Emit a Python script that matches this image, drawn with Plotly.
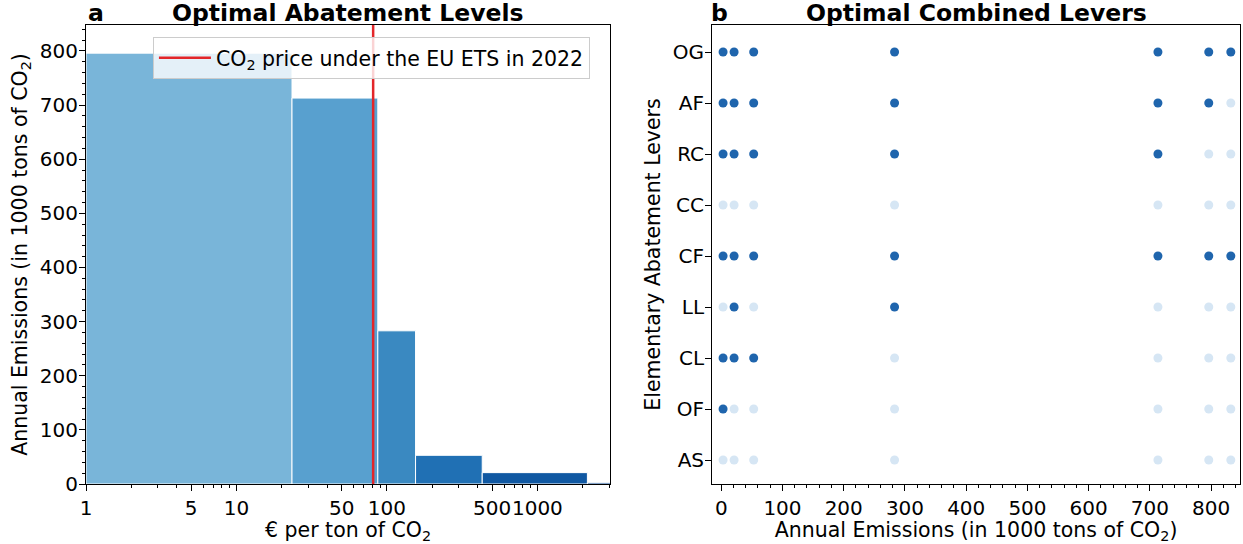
import numpy as np
import plotly.graph_objects as go
from plotly.subplots import make_subplots

# ---- Data ----
# Panel a: abatement cost steps (EUR per ton) and annual emissions (1000 t CO2)
price_edges = [1, 23.4, 87, 155, 430, 2150, 3100]
emission_levels = [796, 713, 283, 53, 21, 3]
bar_colors = ["#79b5d9", "#58a0cf", "#3a89c1", "#2070b4", "#1058a2", "#08468f"]
ets_price_2022 = 81

x_ticks_a = [1, 5, 10, 50, 100, 500, 1000]

# Panel b: combined levers for each emission level
levers = ["AS", "OF", "CL", "LL", "CF", "CC", "RC", "AF", "OG"]
emission_points = [3, 21, 53, 283, 713, 796, 832]
selected = {
    "OG": [1, 1, 1, 1, 1, 1, 1],
    "AF": [1, 1, 1, 1, 1, 1, 0],
    "RC": [1, 1, 1, 1, 1, 0, 0],
    "CC": [0, 0, 0, 0, 0, 0, 0],
    "CF": [1, 1, 1, 1, 1, 1, 1],
    "LL": [0, 1, 0, 1, 0, 0, 0],
    "CL": [1, 1, 1, 0, 0, 0, 0],
    "OF": [1, 0, 0, 0, 0, 0, 0],
    "AS": [0, 0, 0, 0, 0, 0, 0],
}
on_color = "#1f65ad"
off_color = "#d6e6f4"

FONT = "DejaVu Sans"
TICK = 20
LAB = 20.5
TITLE = 23.5

fig = make_subplots(rows=1, cols=2, horizontal_spacing=0.0884)
fig.update_layout(
    width=1243, height=544,
    margin=dict(l=86, r=3, t=25, b=60, autoexpand=False),
    plot_bgcolor="white", paper_bgcolor="white",
    font=dict(family=FONT, size=TICK, color="black"),
)
fig.update_xaxes(domain=[0, 0.4541], row=1, col=1)
fig.update_xaxes(domain=[0.5425, 1], row=1, col=2)

# bars as filled rectangles
for i, h in enumerate(emission_levels):
    l, r = price_edges[i], price_edges[i + 1]
    fig.add_trace(go.Scatter(
        x=[l, l, r, r, l], y=[0, h, h, 0, 0], mode="lines", fill="toself",
        fillcolor=bar_colors[i], line=dict(color="white", width=1),
        showlegend=False, hoverinfo="skip"), row=1, col=1)

ymax_a = 848
fig.add_trace(go.Scatter(
    x=[ets_price_2022, ets_price_2022], y=[0, ymax_a], mode="lines",
    line=dict(color="#e3262a", width=2.5),
    name="CO<sub>2</sub> price under the EU ETS in 2022", showlegend=True),
    row=1, col=1)

# minor log ticks
minor_vals = []
for d in [1, 10, 100, 1000]:
    for k in range(2, 10):
        v = k * d
        if v < 3100:
            minor_vals.append(v)

fig.update_xaxes(
    type="log", range=[0, np.log10(3040)], automargin=False, tickangle=0,
    tickmode="array", tickvals=x_ticks_a, ticktext=[str(v) for v in x_ticks_a],
    ticks="outside", ticklen=6, tickwidth=1, tickcolor="black",
    minor=dict(tickmode="array", tickvals=minor_vals, ticks="outside", ticklen=3,
               tickcolor="black", showgrid=False),
    showline=True, linecolor="black", linewidth=1, mirror=True, showgrid=False,
    zeroline=False,
    title=dict(text="€ per ton of CO<sub>2</sub>", standoff=6, font=dict(size=LAB)),
    row=1, col=1)
fig.update_yaxes(
    range=[0, ymax_a], tickvals=list(range(0, 801, 100)), automargin=False,
    ticks="outside", ticklen=6, tickcolor="black", ticklabelstandoff=-3,
    minor=dict(dtick=20, ticks="outside", ticklen=3, tickcolor="black", showgrid=False),
    showline=True, linecolor="black", linewidth=1, mirror=True, showgrid=False,
    zeroline=False,
    title=dict(text="Annual Emissions (in 1000 tons of CO<sub>2</sub>)", standoff=6,
               font=dict(size=LAB)),
    row=1, col=1)

# panel b dots
for lv in levers:
    cols = [on_color if s else off_color for s in selected[lv]]
    fig.add_trace(go.Scatter(
        x=emission_points, y=[lv] * len(emission_points), mode="markers",
        marker=dict(color=cols, size=9, line=dict(width=0)),
        showlegend=False), row=1, col=2)

fig.update_xaxes(
    range=[-15, 847], tickvals=list(range(0, 801, 100)), automargin=False, tickangle=0,
    ticks="outside", ticklen=6, tickcolor="black",
    minor=dict(dtick=20, ticks="outside", ticklen=3, tickcolor="black", showgrid=False),
    showline=True, linecolor="black", linewidth=1, mirror=True, showgrid=False,
    zeroline=False,
    title=dict(text="Annual Emissions (in 1000 tons of CO<sub>2</sub>)", standoff=4,
               font=dict(size=LAB)),
    row=1, col=2)
fig.update_yaxes(
    type="category", categoryorder="array", categoryarray=levers, automargin=False,
    range=[-0.47, 8.53], ticklabelstandoff=-3,
    ticks="outside", ticklen=6, tickcolor="black",
    showline=True, linecolor="black", linewidth=1, mirror=True, showgrid=False,
    zeroline=False,
    title=dict(text="Elementary Abatement Levers", standoff=6, font=dict(size=LAB)),
    row=1, col=2)

fig.update_layout(
    legend=dict(x=0.058, y=0.974, xanchor="left", yanchor="top", itemwidth=52,
                bgcolor="rgba(255,255,255,0.8)", bordercolor="#cccccc", borderwidth=1,
                font=dict(size=LAB, family=FONT)),
)

# titles
ty = 1 + 12 / 459
annotations = [
    dict(text="<b>a</b>", x=0.0, xref="paper", y=ty, yref="paper",
         xanchor="left", yanchor="middle", showarrow=False, font=dict(size=TITLE, family=FONT)),
    dict(text="<b>Optimal Abatement Levels</b>", x=0.4541 / 2, xref="paper", y=ty, yref="paper",
         xanchor="center", yanchor="middle", showarrow=False, font=dict(size=TITLE, family=FONT)),
    dict(text="<b>b</b>", x=0.5425 - 0.003, xref="paper", y=ty, yref="paper",
         xanchor="left", yanchor="middle", showarrow=False, font=dict(size=TITLE, family=FONT)),
    dict(text="<b>Optimal Combined Levers</b>", x=(0.5425 + 1) / 2, xref="paper", y=ty, yref="paper",
         xanchor="center", yanchor="middle", showarrow=False, font=dict(size=TITLE, family=FONT)),
]
fig.update_layout(annotations=annotations)

fig.write_html("out.html", config={"displayModeBar": False},
               post_script="document.body.style.margin='0px';")
